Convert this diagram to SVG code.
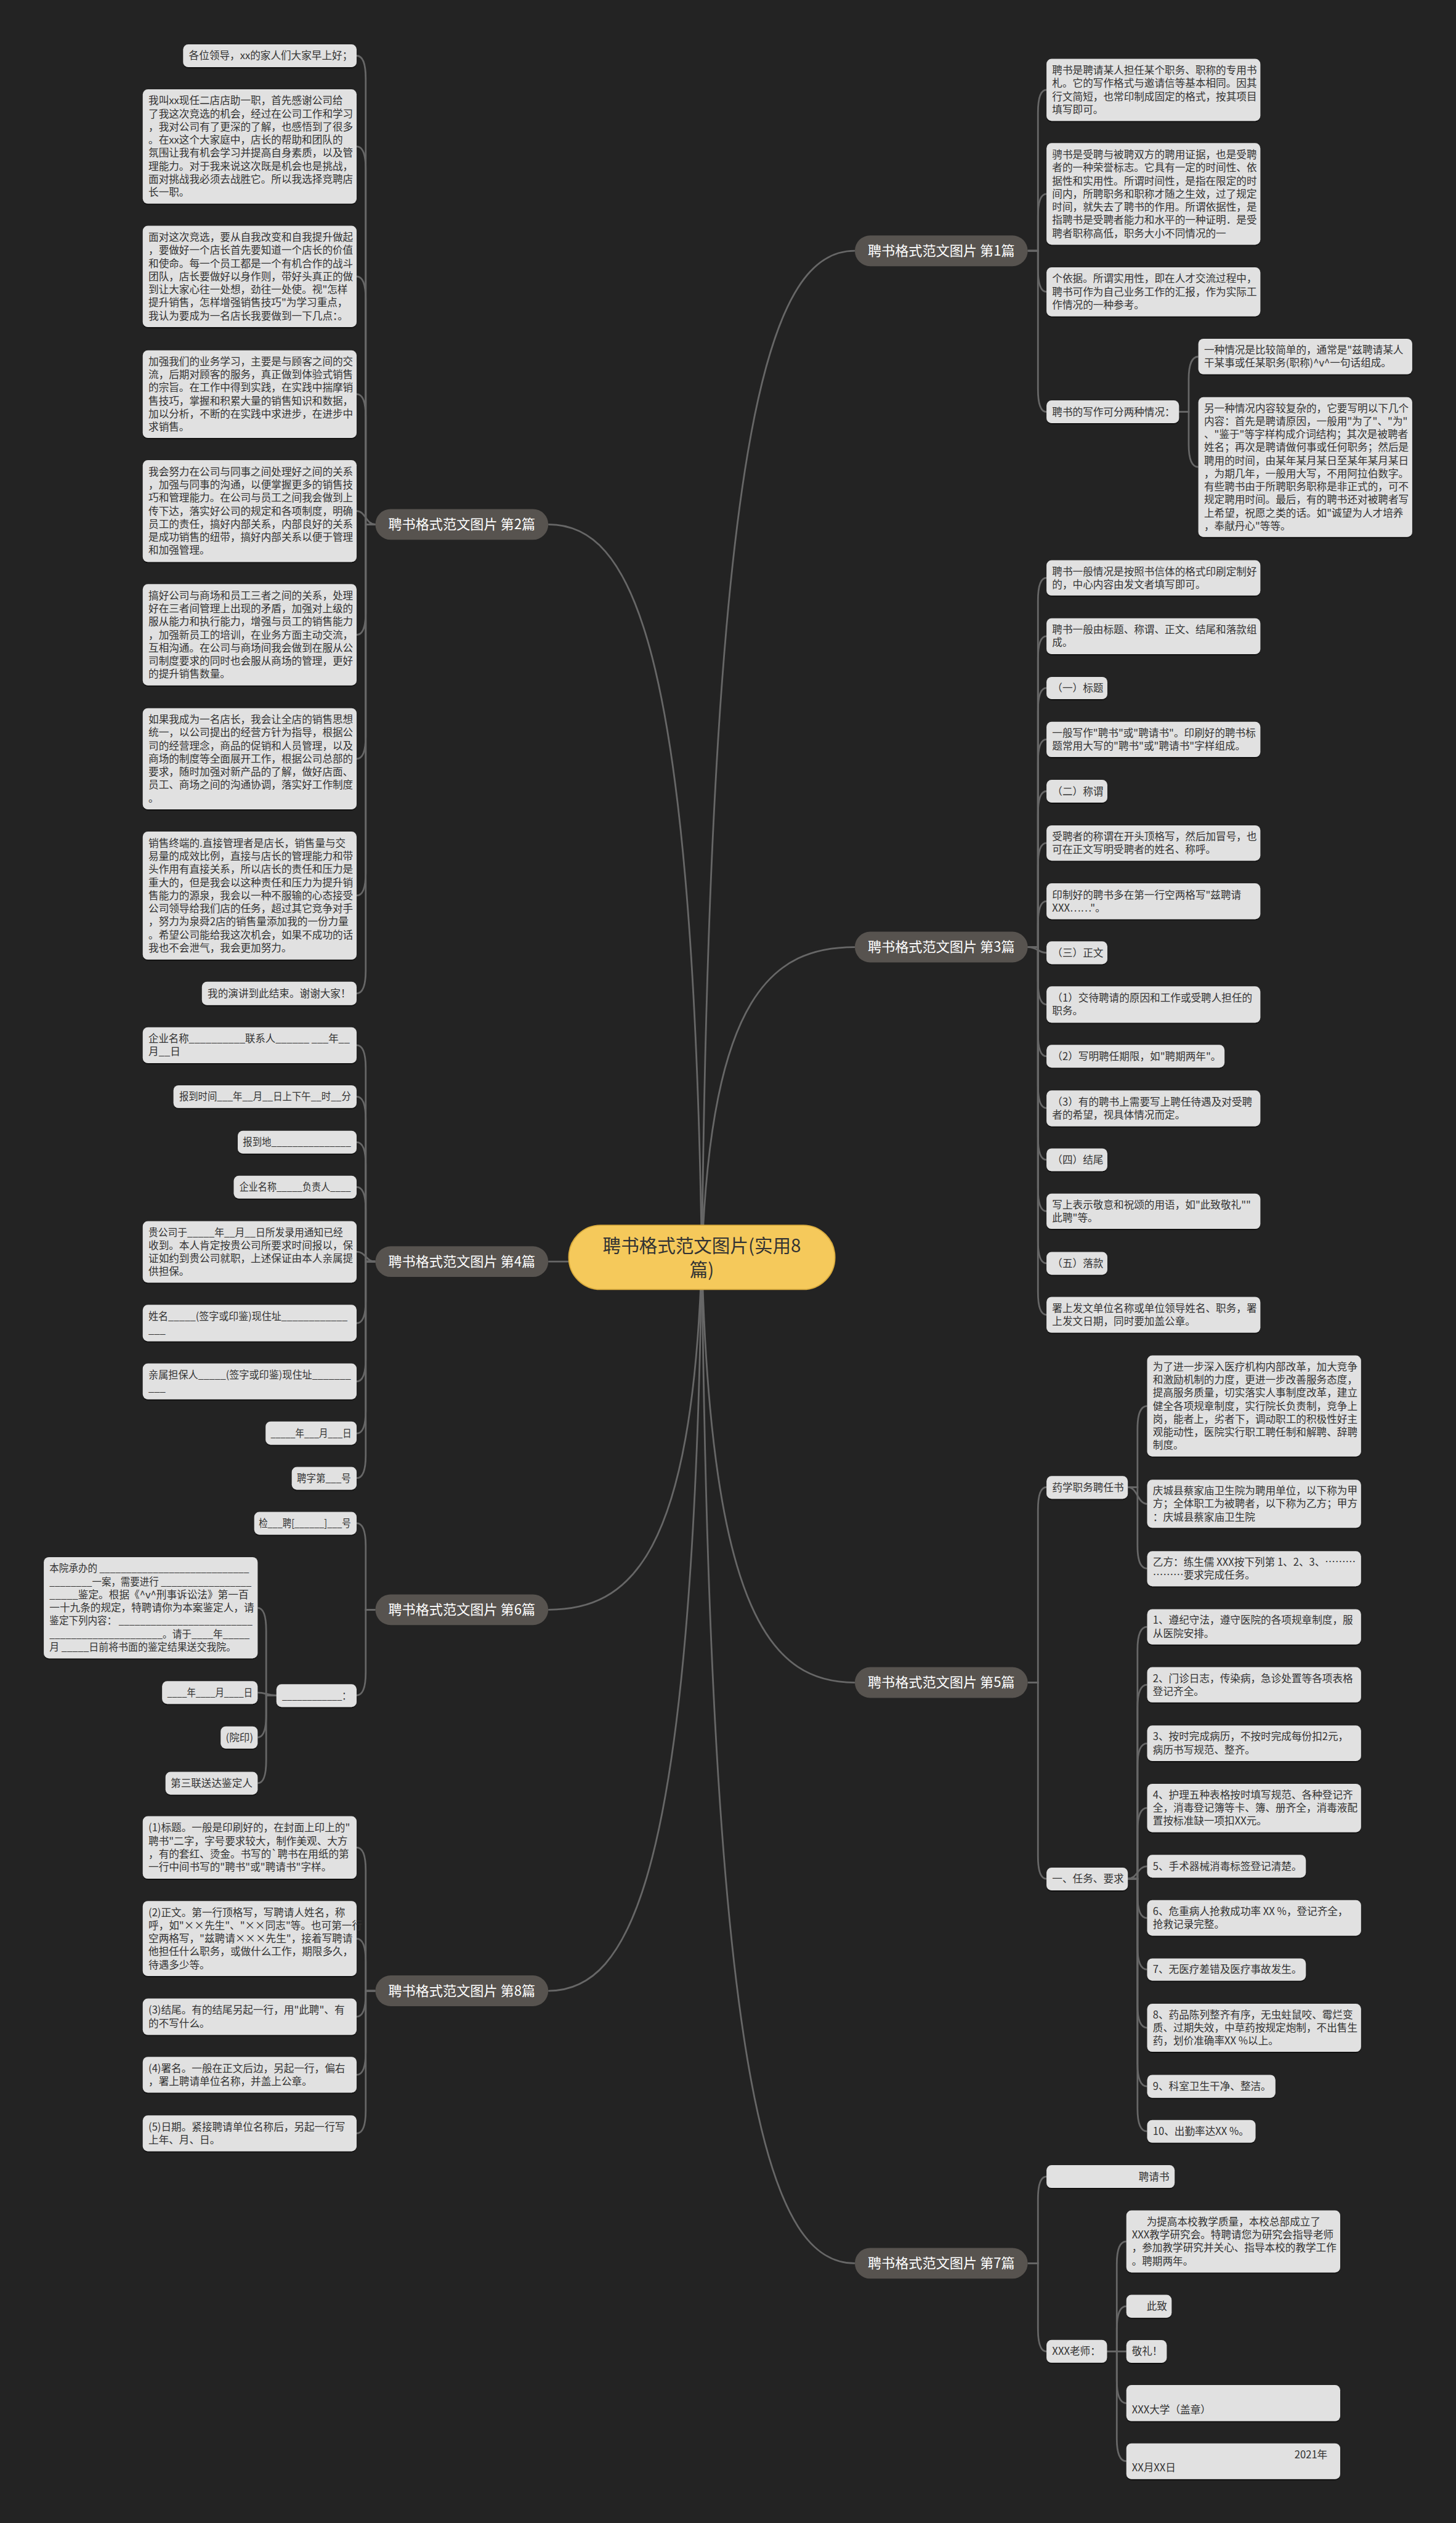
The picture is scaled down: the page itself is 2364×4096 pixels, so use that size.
<svg xmlns="http://www.w3.org/2000/svg" width="2364" height="4096" viewBox="0 0 2364 4096">
<defs>
<filter id="ds" x="-5%" y="-10%" width="110%" height="130%"><feDropShadow dx="0" dy="2" stdDeviation="0.6" flood-color="#000" flood-opacity="0.6"/></filter>
<style>
.bg{fill:#232323}
.cn{fill:none;stroke:#676767;stroke-width:3}
.lf{fill:#e1e1e1;filter:url(#ds)}
.t{font-family:"Noto Sans CJK SC","Noto Sans",sans-serif;font-size:18px;fill:#333}
.br{fill:#57534f}
.bt{font-family:"Noto Sans CJK SC","Noto Sans",sans-serif;font-size:24px;fill:#fff;text-anchor:middle}
.rt{fill:#f5c95b;stroke:#d9ab3d;stroke-width:2}
.rtt{font-family:"Noto Sans CJK SC","Noto Sans",sans-serif;font-size:32px;fill:#333;text-anchor:middle}
</style>
</defs>
<rect class="bg" width="2364" height="4096"/>
<g transform="scale(0.923438)">
<g id="connectors">
<path class="cn" d="M1234,2210 C1250,706 1360,441 1503,441"/>
<path class="cn" d="M1234,2210 C1250,1747 1360,1665 1503,1665"/>
<path class="cn" d="M1234,2210 C1250,2846 1360,2958 1503,2958"/>
<path class="cn" d="M1234,2210 C1250,3714 1360,3979 1503,3979"/>
<path class="cn" d="M1234,2210 C1218,1115 1107,922 964,922"/>
<path class="cn" d="M1234,2210 C1218,2214 1107,2218 964,2218"/>
<path class="cn" d="M1234,2210 C1218,2737 1107,2830 964,2830"/>
<path class="cn" d="M1234,2210 C1218,3306 1107,3500 964,3500"/>
<path class="cn" d="M1807,441 H1825 V198 Q1825,158 1840,158"/>
<path class="cn" d="M1807,441 H1825 V381 Q1825,341 1840,341"/>
<path class="cn" d="M1807,441 H1825 V473 Q1825,513 1840,513"/>
<path class="cn" d="M1807,441 H1825 V684 Q1825,724 1840,724"/>
<path class="cn" d="M2073,724 H2090 V667 Q2090,627 2107,627"/>
<path class="cn" d="M2073,724 H2090 V781 Q2090,821 2107,821"/>
<path class="cn" d="M1807,1665 H1825 V1056 Q1825,1016 1840,1016"/>
<path class="cn" d="M1807,1665 H1825 V1158.5 Q1825,1118.5 1840,1118.5"/>
<path class="cn" d="M1807,1665 H1825 V1249.5 Q1825,1209.5 1840,1209.5"/>
<path class="cn" d="M1807,1665 H1825 V1340 Q1825,1300 1840,1300"/>
<path class="cn" d="M1807,1665 H1825 V1431 Q1825,1391 1840,1391"/>
<path class="cn" d="M1807,1665 H1825 V1522 Q1825,1482 1840,1482"/>
<path class="cn" d="M1807,1665 H1825 V1624.5 Q1825,1584.5 1840,1584.5"/>
<path class="cn" d="M1807,1665 C1825,1665 1825,1675 1840,1675"/>
<path class="cn" d="M1807,1665 H1825 V1726 Q1825,1766 1840,1766"/>
<path class="cn" d="M1807,1665 H1825 V1817 Q1825,1857 1840,1857"/>
<path class="cn" d="M1807,1665 H1825 V1908 Q1825,1948 1840,1948"/>
<path class="cn" d="M1807,1665 H1825 V1999 Q1825,2039 1840,2039"/>
<path class="cn" d="M1807,1665 H1825 V2089.5 Q1825,2129.5 1840,2129.5"/>
<path class="cn" d="M1807,1665 H1825 V2181 Q1825,2221 1840,2221"/>
<path class="cn" d="M1807,1665 H1825 V2271.5 Q1825,2311.5 1840,2311.5"/>
<path class="cn" d="M1807,2958 H1825 V2654.5 Q1825,2614.5 1840,2614.5"/>
<path class="cn" d="M1807,2958 H1825 V3263 Q1825,3303 1840,3303"/>
<path class="cn" d="M1983,2614.5 H2000 V2512 Q2000,2472 2017,2472"/>
<path class="cn" d="M1983,2614.5 C2000,2614.5 2000,2644 2017,2644"/>
<path class="cn" d="M1983,2614.5 H2000 V2717.5 Q2000,2757.5 2017,2757.5"/>
<path class="cn" d="M1983,3303 H2000 V2900 Q2000,2860 2017,2860"/>
<path class="cn" d="M1983,3303 H2000 V3002 Q2000,2962 2017,2962"/>
<path class="cn" d="M1983,3303 H2000 V3105 Q2000,3065 2017,3065"/>
<path class="cn" d="M1983,3303 H2000 V3218.5 Q2000,3178.5 2017,3178.5"/>
<path class="cn" d="M1983,3303 C2000,3303 2000,3281 2017,3281"/>
<path class="cn" d="M1983,3303 H2000 V3332 Q2000,3372 2017,3372"/>
<path class="cn" d="M1983,3303 H2000 V3422.5 Q2000,3462.5 2017,3462.5"/>
<path class="cn" d="M1983,3303 H2000 V3525 Q2000,3565 2017,3565"/>
<path class="cn" d="M1983,3303 H2000 V3628 Q2000,3668 2017,3668"/>
<path class="cn" d="M1983,3303 H2000 V3707 Q2000,3747 2017,3747"/>
<path class="cn" d="M1807,3979 H1825 V3866.5 Q1825,3826.5 1840,3826.5"/>
<path class="cn" d="M1807,3979 H1825 V4094 Q1825,4134 1840,4134"/>
<path class="cn" d="M1946.4,4134 H1963.6 V3980.5 Q1963.6,3940.5 1980.4,3940.5"/>
<path class="cn" d="M1946.4,4134 H1963.6 V4094.6 Q1963.6,4054.6 1980.4,4054.6"/>
<path class="cn" d="M1946.4,4134 H1980.4"/>
<path class="cn" d="M1946.4,4134 H1963.6 V4185 Q1963.6,4225 1980.4,4225"/>
<path class="cn" d="M1946.4,4134 H1963.6 V4287 Q1963.6,4327 1980.4,4327"/>
<path class="cn" d="M660,922 H643 V138 Q643,98 627,98"/>
<path class="cn" d="M660,922 H643 V297.5 Q643,257.5 627,257.5"/>
<path class="cn" d="M660,922 H643 V526 Q643,486 627,486"/>
<path class="cn" d="M660,922 H643 V733 Q643,693 627,693"/>
<path class="cn" d="M660,922 C643,922 643,898.5 627,898.5"/>
<path class="cn" d="M660,922 H643 V1076 Q643,1116 627,1116"/>
<path class="cn" d="M660,922 H643 V1294 Q643,1334 627,1334"/>
<path class="cn" d="M660,922 H643 V1534.5 Q643,1574.5 627,1574.5"/>
<path class="cn" d="M660,922 H643 V1706.5 Q643,1746.5 627,1746.5"/>
<path class="cn" d="M660,2218 H643 V1877.5 Q643,1837.5 627,1837.5"/>
<path class="cn" d="M660,2218 H643 V1968 Q643,1928 627,1928"/>
<path class="cn" d="M660,2218 H643 V2048 Q643,2008 627,2008"/>
<path class="cn" d="M660,2218 H643 V2127 Q643,2087 627,2087"/>
<path class="cn" d="M660,2218 C643,2218 643,2200.7 627,2200.7"/>
<path class="cn" d="M660,2218 H643 V2286.3 Q643,2326.3 627,2326.3"/>
<path class="cn" d="M660,2218 H643 V2388.7 Q643,2428.7 627,2428.7"/>
<path class="cn" d="M660,2218 H643 V2480 Q643,2520 627,2520"/>
<path class="cn" d="M660,2218 H643 V2558.7 Q643,2598.7 627,2598.7"/>
<path class="cn" d="M660,2830 H643 V2718 Q643,2678 627,2678"/>
<path class="cn" d="M660,2830 H643 V2940.5 Q643,2980.5 627,2980.5"/>
<path class="cn" d="M486,2980.5 H468 V2866.7 Q468,2826.7 453,2826.7"/>
<path class="cn" d="M486,2980.5 C468,2980.5 468,2975.7 453,2975.7"/>
<path class="cn" d="M486,2980.5 H468 V3014.4 Q468,3054.4 453,3054.4"/>
<path class="cn" d="M486,2980.5 H468 V3095 Q468,3135 453,3135"/>
<path class="cn" d="M660,3500 H643 V3288 Q643,3248 627,3248"/>
<path class="cn" d="M660,3500 H643 V3448.3 Q643,3408.3 627,3408.3"/>
<path class="cn" d="M660,3500 H643 V3505.5 Q643,3545.5 627,3545.5"/>
<path class="cn" d="M660,3500 H643 V3607.7 Q643,3647.7 627,3647.7"/>
<path class="cn" d="M660,3500 H643 V3710.5 Q643,3750.5 627,3750.5"/>
</g>

<g id="root"><rect class="rt" x="1000" y="2154" width="468" height="113" rx="56"/>
<text class="rtt"><tspan x="1234" y="2201.5">聘书格式范文图片(实用8</tspan><tspan x="1234" y="2243.5">篇)</tspan></text></g>

<g id="b1"><rect class="br" x="1503" y="414" width="304" height="54" rx="27"/><text class="bt" x="1655" y="449.5">聘书格式范文图片 第1篇</text></g>
<g id="b3"><rect class="br" x="1503" y="1638" width="304" height="54" rx="27"/><text class="bt" x="1655" y="1673.5">聘书格式范文图片 第3篇</text></g>
<g id="b5"><rect class="br" x="1503" y="2931" width="304" height="54" rx="27"/><text class="bt" x="1655" y="2966.5">聘书格式范文图片 第5篇</text></g>
<g id="b7"><rect class="br" x="1503" y="3952" width="304" height="54" rx="27"/><text class="bt" x="1655" y="3987.5">聘书格式范文图片 第7篇</text></g>
<g id="b2"><rect class="br" x="660" y="895" width="304" height="54" rx="27"/><text class="bt" x="812" y="930.5">聘书格式范文图片 第2篇</text></g>
<g id="b4"><rect class="br" x="660" y="2191" width="304" height="54" rx="27"/><text class="bt" x="812" y="2226.5">聘书格式范文图片 第4篇</text></g>
<g id="b6"><rect class="br" x="660" y="2803" width="304" height="54" rx="27"/><text class="bt" x="812" y="2838.5">聘书格式范文图片 第6篇</text></g>
<g id="b8"><rect class="br" x="660" y="3473" width="304" height="54" rx="27"/><text class="bt" x="812" y="3508.5">聘书格式范文图片 第8篇</text></g>

<g id="l2-1"><rect class="lf" x="322" y="78" width="305" height="40" rx="9"/><text class="t" x="332" y="104.5">各位领导，xx的家人们大家早上好；</text></g>
<g id="l2-2"><rect class="lf" x="251" y="157" width="376" height="201" rx="9"/><text class="t" y="183.5"><tspan x="261">我叫xx现任二店店助一职，首先感谢公司给</tspan><tspan x="261" dy="23">了我这次竞选的机会，经过在公司工作和学习</tspan><tspan x="261" dy="23">，我对公司有了更深的了解，也感悟到了很多</tspan><tspan x="261" dy="23">。在xx这个大家庭中，店长的帮助和团队的</tspan><tspan x="261" dy="23">氛围让我有机会学习并提高自身素质，以及管</tspan><tspan x="261" dy="23">理能力。对于我来说这次既是机会也是挑战，</tspan><tspan x="261" dy="23">面对挑战我必须去战胜它。所以我选择竞聘店</tspan><tspan x="261" dy="23">长一职。</tspan></text></g>
<g id="l2-3"><rect class="lf" x="251" y="397" width="376" height="178" rx="9"/><text class="t" y="423.5"><tspan x="261">面对这次竞选，要从自我改变和自我提升做起</tspan><tspan x="261" dy="23">，要做好一个店长首先要知道一个店长的价值</tspan><tspan x="261" dy="23">和使命。每一个员工都是一个有机合作的战斗</tspan><tspan x="261" dy="23">团队，店长要做好以身作则，带好头真正的做</tspan><tspan x="261" dy="23">到让大家心往一处想，劲往一处使。视"怎样</tspan><tspan x="261" dy="23">提升销售，怎样增强销售技巧"为学习重点，</tspan><tspan x="261" dy="23">我认为要成为一名店长我要做到一下几点：。</tspan></text></g>
<g id="l2-4"><rect class="lf" x="251" y="616" width="376" height="154" rx="9"/><text class="t" y="642"><tspan x="261">加强我们的业务学习，主要是与顾客之间的交</tspan><tspan x="261" dy="23">流，后期对顾客的服务，真正做到体验式销售</tspan><tspan x="261" dy="23">的宗旨。在工作中得到实践，在实践中揣摩销</tspan><tspan x="261" dy="23">售技巧，掌握和积累大量的销售知识和数据，</tspan><tspan x="261" dy="23">加以分析，不断的在实践中求进步，在进步中</tspan><tspan x="261" dy="23">求销售。</tspan></text></g>
<g id="l2-5"><rect class="lf" x="251" y="809" width="376" height="179" rx="9"/><text class="t" y="836"><tspan x="261">我会努力在公司与同事之间处理好之间的关系</tspan><tspan x="261" dy="23">，加强与同事的沟通，以便掌握更多的销售技</tspan><tspan x="261" dy="23">巧和管理能力。在公司与员工之间我会做到上</tspan><tspan x="261" dy="23">传下达，落实好公司的规定和各项制度，明确</tspan><tspan x="261" dy="23">员工的责任，搞好内部关系，内部良好的关系</tspan><tspan x="261" dy="23">是成功销售的纽带，搞好内部关系以便于管理</tspan><tspan x="261" dy="23">和加强管理。</tspan></text></g>
<g id="l2-6"><rect class="lf" x="251" y="1027" width="376" height="178" rx="9"/><text class="t" y="1053.5"><tspan x="261">搞好公司与商场和员工三者之间的关系，处理</tspan><tspan x="261" dy="23">好在三者间管理上出现的矛盾，加强对上级的</tspan><tspan x="261" dy="23">服从能力和执行能力，增强与员工的销售能力</tspan><tspan x="261" dy="23">，加强新员工的培训，在业务方面主动交流，</tspan><tspan x="261" dy="23">互相沟通。在公司与商场间我会做到在服从公</tspan><tspan x="261" dy="23">司制度要求的同时也会服从商场的管理，更好</tspan><tspan x="261" dy="23">的提升销售数量。</tspan></text></g>
<g id="l2-7"><rect class="lf" x="251" y="1245" width="376" height="178" rx="9"/><text class="t" y="1271.5"><tspan x="261">如果我成为一名店长，我会让全店的销售思想</tspan><tspan x="261" dy="23">统一，以公司提出的经营方针为指导，根据公</tspan><tspan x="261" dy="23">司的经营理念，商品的促销和人员管理，以及</tspan><tspan x="261" dy="23">商场的制度等全面展开工作，根据公司总部的</tspan><tspan x="261" dy="23">要求，随时加强对新产品的了解，做好店面、</tspan><tspan x="261" dy="23">员工、商场之间的沟通协调，落实好工作制度</tspan><tspan x="261" dy="23">。</tspan></text></g>
<g id="l2-8"><rect class="lf" x="251" y="1462" width="376" height="225" rx="9"/><text class="t" y="1489"><tspan x="261">销售终端的.直接管理者是店长，销售量与交</tspan><tspan x="261" dy="23">易量的成效比例，直接与店长的管理能力和带</tspan><tspan x="261" dy="23">头作用有直接关系，所以店长的责任和压力是</tspan><tspan x="261" dy="23">重大的，但是我会以这种责任和压力为提升销</tspan><tspan x="261" dy="23">售能力的源泉，我会以一种不服输的心态接受</tspan><tspan x="261" dy="23">公司领导给我们店的任务，超过其它竞争对手</tspan><tspan x="261" dy="23">，努力为泉舜2店的销售量添加我的一份力量</tspan><tspan x="261" dy="23">。希望公司能给我这次机会，如果不成功的话</tspan><tspan x="261" dy="23">我也不会泄气，我会更加努力。</tspan></text></g>
<g id="l2-9"><rect class="lf" x="355" y="1726" width="272" height="41" rx="9"/><text class="t" x="365" y="1753">我的演讲到此结束。谢谢大家！</text></g>

<g id="l4-1"><rect class="lf" x="251" y="1806" width="376" height="63" rx="9"/><text class="t" x="261" y="1832.5" textLength="354" lengthAdjust="spacingAndGlyphs">企业名称__________联系人______ ___年__</text><text class="t" x="261" y="1855.5">月__日</text></g>
<g id="l4-2"><rect class="lf" x="305" y="1908" width="322" height="40" rx="9"/><text class="t" x="315" y="1934.5" textLength="302" lengthAdjust="spacingAndGlyphs">报到时间___年__月__日上下午__时__分</text></g>
<g id="l4-3"><rect class="lf" x="418" y="1988" width="209" height="40" rx="9"/><text class="t" x="427" y="2014.5" textLength="190" lengthAdjust="spacingAndGlyphs">报到地_______________</text></g>
<g id="l4-4"><rect class="lf" x="411" y="2067" width="216" height="40" rx="9"/><text class="t" x="421" y="2093.5" textLength="196" lengthAdjust="spacingAndGlyphs">企业名称_____负责人____</text></g>
<g id="l4-5"><rect class="lf" x="251" y="2147" width="376" height="108" rx="9"/><text class="t" x="261" y="2173" textLength="342" lengthAdjust="spacingAndGlyphs">贵公司于_____年__月__日所发录用通知已经</text><text class="t" y="2196"><tspan x="261">收到。本人肯定按贵公司所要求时间报以，保</tspan><tspan x="261" dy="23">证如约到贵公司就职，上述保证由本人亲属提</tspan><tspan x="261" dy="23">供担保。</tspan></text></g>
<g id="l4-6"><rect class="lf" x="251" y="2294" width="376" height="64" rx="9"/><text class="t" x="261" y="2321" textLength="350" lengthAdjust="spacingAndGlyphs">姓名_____(签字或印鉴)现住址____________</text><text class="t" x="261" y="2344">___</text></g>
<g id="l4-7"><rect class="lf" x="251" y="2397" width="376" height="63" rx="9"/><text class="t" x="261" y="2423.5" textLength="356" lengthAdjust="spacingAndGlyphs">亲属担保人_____(签字或印鉴)现住址_______</text><text class="t" x="261" y="2446.5">___</text></g>
<g id="l4-8"><rect class="lf" x="467" y="2499" width="160" height="41" rx="9"/><text class="t" x="476" y="2526" textLength="142" lengthAdjust="spacingAndGlyphs">_____年___月___日</text></g>
<g id="l4-9"><rect class="lf" x="513" y="2579" width="114" height="40" rx="9"/><text class="t" x="522" y="2605.5" textLength="95" lengthAdjust="spacingAndGlyphs">聘字第___号</text></g>

<g id="l6-1"><rect class="lf" x="447" y="2658" width="180" height="40" rx="9"/><text class="t" x="455" y="2684.5" textLength="162" lengthAdjust="spacingAndGlyphs">检___聘[______]___号</text></g>
<g id="l6-2"><rect class="lf" x="486" y="2961" width="141" height="40" rx="9"/><text class="t" x="496" y="2987.5" textLength="121" lengthAdjust="spacingAndGlyphs">____________：</text></g>
<g id="l6-2a"><rect class="lf" x="77" y="2737.5" width="376" height="178" rx="9"/>
<text class="t" x="87" y="2764" textLength="351" lengthAdjust="spacingAndGlyphs">本院承办的 ____________________________</text>
<text class="t" x="87" y="2787" textLength="355" lengthAdjust="spacingAndGlyphs">________一案，需要进行 _________________</text>
<text class="t" x="87" y="2810" textLength="350" lengthAdjust="spacingAndGlyphs">_____鉴定。根据《^v^刑事诉讼法》第一百</text>
<text class="t" x="87" y="2833">一十九条的规定，特聘请你为本案鉴定人，请</text>
<text class="t" x="87" y="2856" textLength="357" lengthAdjust="spacingAndGlyphs">鉴定下列内容： _________________________</text>
<text class="t" x="87" y="2879" textLength="352" lengthAdjust="spacingAndGlyphs">_____________________。请于____年_____</text>
<text class="t" x="87" y="2902" textLength="328" lengthAdjust="spacingAndGlyphs">月 _____日前将书面的鉴定结果送交我院。</text></g>
<g id="l6-2b"><rect class="lf" x="285" y="2955.5" width="168" height="40" rx="9"/><text class="t" x="294" y="2982" textLength="150" lengthAdjust="spacingAndGlyphs">____年____月____日</text></g>
<g id="l6-2c"><rect class="lf" x="388" y="3035" width="65" height="39" rx="9"/><text class="t" x="397" y="3061">(院印)</text></g>
<g id="l6-2d"><rect class="lf" x="291" y="3115" width="162" height="40" rx="9"/><text class="t" x="300" y="3141.5">第三联送达鉴定人</text></g>

<g id="l8-1"><rect class="lf" x="251" y="3193" width="376" height="110" rx="9"/><text class="t" y="3220"><tspan x="261">(1)标题。一般是印刷好的，在封面上印上的"</tspan><tspan x="261" dy="23">聘书"二字，字号要求较大，制作美观、大方</tspan><tspan x="261" dy="23">，有的套红、烫金。书写的`聘书在用纸的第</tspan><tspan x="261" dy="23">一行中间书写的"聘书"或"聘请书"字样。</tspan></text></g>
<g id="l8-2"><rect class="lf" x="251" y="3342" width="376" height="132" rx="9"/><text class="t" y="3368.5"><tspan x="261">(2)正文。第一行顶格写，写聘请人姓名，称</tspan><tspan x="261" dy="23">呼，如"××先生"、"××同志"等。也可第一行</tspan><tspan x="261" dy="23">空两格写，"兹聘请×××先生"，接着写聘请</tspan><tspan x="261" dy="23">他担任什么职务，或做什么工作，期限多久，</tspan><tspan x="261" dy="23">待遇多少等。</tspan></text></g>
<g id="l8-3"><rect class="lf" x="251" y="3513.5" width="376" height="64" rx="9"/><text class="t" y="3540.5"><tspan x="261">(3)结尾。有的结尾另起一行，用"此聘"、有</tspan><tspan x="261" dy="23">的不写什么。</tspan></text></g>
<g id="l8-4"><rect class="lf" x="251" y="3616" width="376" height="63" rx="9"/><text class="t" y="3642.5"><tspan x="261">(4)署名。一般在正文后边，另起一行，偏右</tspan><tspan x="261" dy="23">，署上聘请单位名称，并盖上公章。</tspan></text></g>
<g id="l8-5"><rect class="lf" x="251" y="3719" width="376" height="63" rx="9"/><text class="t" y="3745.5"><tspan x="261">(5)日期。紧接聘请单位名称后，另起一行写</tspan><tspan x="261" dy="23">上年、月、日。</tspan></text></g>

<g id="r1-1"><rect class="lf" x="1840" y="103.5" width="376" height="109" rx="9"/><text class="t" y="130"><tspan x="1850">聘书是聘请某人担任某个职务、职称的专用书</tspan><tspan x="1850" dy="23">札。它的写作格式与邀请信等基本相同。因其</tspan><tspan x="1850" dy="23">行文简短，也常印制成固定的格式，按其项目</tspan><tspan x="1850" dy="23">填写即可。</tspan></text></g>
<g id="r1-2"><rect class="lf" x="1840" y="251.6" width="376" height="178.6" rx="9"/><text class="t" y="278.4"><tspan x="1850">骋书是受聘与被聘双方的聘用证据，也是受聘</tspan><tspan x="1850" dy="23">者的一种荣誉标志。它具有一定的时间性、依</tspan><tspan x="1850" dy="23">据性和实用性。所谓时间性，是指在限定的时</tspan><tspan x="1850" dy="23">间内，所聘职务和职称才随之生效，过了规定</tspan><tspan x="1850" dy="23">时间，就失去了聘书的作用。所谓依据性，是</tspan><tspan x="1850" dy="23">指聘书是受聘者能力和水平的一种证明．是受</tspan><tspan x="1850" dy="23">聘者职称高低，职务大小不同情况的一</tspan></text></g>
<g id="r1-3"><rect class="lf" x="1840" y="470" width="376" height="86" rx="9"/><text class="t" y="496.5"><tspan x="1850">个依据。所谓实用性，即在人才交流过程中，</tspan><tspan x="1850" dy="23">聘书可作为自己业务工作的汇报，作为实际工</tspan><tspan x="1850" dy="23">作情况的一种参考。</tspan></text></g>
<g id="r1-4"><rect class="lf" x="1840" y="704" width="233" height="40" rx="9"/><text class="t" x="1850" y="730.5">聘书的写作可分两种情况：</text></g>
<g id="r1-4a"><rect class="lf" x="2107" y="595.5" width="376" height="62.5" rx="9"/><text class="t" y="621.75"><tspan x="2117">一种情况是比较简单的，通常是"兹聘请某人</tspan><tspan x="2117" dy="23">干某事或任某职务(职称)^v^一句话组成。</tspan></text></g>
<g id="r1-4b"><rect class="lf" x="2107" y="698.3" width="376" height="245.7" rx="9"/><text class="t" y="724.15"><tspan x="2117">另一种情况内容较复杂的，它要写明以下几个</tspan><tspan x="2117" dy="23">内容：首先是聘请原因，一般用"为了"、"为"</tspan><tspan x="2117" dy="23">、"鉴于"等字样构成介词结构；其次是被聘者</tspan><tspan x="2117" dy="23">姓名；再次是聘请做何事或任何职务；然后是</tspan><tspan x="2117" dy="23">聘用的时间，由某年某月某日至某年某月某日</tspan><tspan x="2117" dy="23">，为期几年，一般用大写，不用阿拉伯数字。</tspan><tspan x="2117" dy="23">有些聘书由于所聘职务职称是非正式的，可不</tspan><tspan x="2117" dy="23">规定聘用时间。最后，有的聘书还对被聘者写</tspan><tspan x="2117" dy="23">上希望，祝愿之类的话。如"诚望为人才培养</tspan><tspan x="2117" dy="23">，奉献丹心"等等。</tspan></text></g>

<g id="r3-1"><rect class="lf" x="1840" y="985" width="376" height="62" rx="9"/><text class="t" y="1011"><tspan x="1850">聘书一般情况是按照书信体的格式印刷定制好</tspan><tspan x="1850" dy="23">的，中心内容由发文者填写即可。</tspan></text></g>
<g id="r3-2"><rect class="lf" x="1840" y="1087" width="376" height="63" rx="9"/><text class="t" y="1113.5"><tspan x="1850">聘书一般由标题、称谓、正文、结尾和落款组</tspan><tspan x="1850" dy="23">成。</tspan></text></g>
<g id="r3-3"><rect class="lf" x="1840" y="1190" width="107" height="39" rx="9"/><text class="t" x="1850" y="1216">（一）标题</text></g>
<g id="r3-4"><rect class="lf" x="1840" y="1269" width="376" height="62" rx="9"/><text class="t" y="1295"><tspan x="1850">一般写作"聘书"或"聘请书"。印刷好的聘书标</tspan><tspan x="1850" dy="23">题常用大写的"聘书"或"聘请书"字样组成。</tspan></text></g>
<g id="r3-5"><rect class="lf" x="1840" y="1371" width="107" height="40" rx="9"/><text class="t" x="1850" y="1397.5">（二）称谓</text></g>
<g id="r3-6"><rect class="lf" x="1840" y="1451" width="376" height="62" rx="9"/><text class="t" y="1477"><tspan x="1850">受聘者的称谓在开头顶格写，然后加冒号，也</tspan><tspan x="1850" dy="23">可在正文写明受聘者的姓名、称呼。</tspan></text></g>
<g id="r3-7"><rect class="lf" x="1840" y="1553" width="376" height="63" rx="9"/><text class="t" y="1579.5"><tspan x="1850">印制好的聘书多在第一行空两格写"兹聘请</tspan><tspan x="1850" dy="23">XXX……"。</tspan></text></g>
<g id="r3-8"><rect class="lf" x="1840" y="1655" width="107" height="40" rx="9"/><text class="t" x="1850" y="1681.5">（三）正文</text></g>
<g id="r3-9"><rect class="lf" x="1840" y="1734" width="376" height="64" rx="9"/><text class="t" y="1761"><tspan x="1850">（1）交待聘请的原因和工作或受聘人担任的</tspan><tspan x="1850" dy="23">职务。</tspan></text></g>
<g id="r3-10"><rect class="lf" x="1840" y="1837" width="313" height="40" rx="9"/><text class="t" x="1850" y="1863.5">（2）写明聘任期限，如"聘期两年"。</text></g>
<g id="r3-11"><rect class="lf" x="1840" y="1917" width="376" height="63" rx="9"/><text class="t" y="1943.5"><tspan x="1850">（3）有的聘书上需要写上聘任待遇及对受聘</tspan><tspan x="1850" dy="23">者的希望，视具体情况而定。</tspan></text></g>
<g id="r3-12"><rect class="lf" x="1840" y="2019" width="107" height="40" rx="9"/><text class="t" x="1850" y="2045.5">（四）结尾</text></g>
<g id="r3-13"><rect class="lf" x="1840" y="2098.5" width="376" height="62" rx="9"/><text class="t" y="2124.5"><tspan x="1850">写上表示敬意和祝颂的用语，如"此致敬礼""</tspan><tspan x="1850" dy="23">此聘"等。</tspan></text></g>
<g id="r3-14"><rect class="lf" x="1840" y="2201" width="107" height="40" rx="9"/><text class="t" x="1850" y="2227.5">（五）落款</text></g>
<g id="r3-15"><rect class="lf" x="1840" y="2280" width="376" height="63" rx="9"/><text class="t" y="2306.5"><tspan x="1850">署上发文单位名称或单位领导姓名、职务，署</tspan><tspan x="1850" dy="23">上发文日期，同时要加盖公章。</tspan></text></g>

<g id="r5-1"><rect class="lf" x="1840" y="2595" width="143" height="40" rx="9"/><text class="t" x="1850" y="2621.5">药学职务聘任书</text></g>
<g id="r5-1a"><rect class="lf" x="2017" y="2383" width="376" height="177.6" rx="9"/><text class="t" y="2409.3"><tspan x="2027">为了进一步深入医疗机构内部改革，加大竞争</tspan><tspan x="2027" dy="23">和激励机制的力度，更进一步改善服务态度，</tspan><tspan x="2027" dy="23">提高服务质量，切实落实人事制度改革，建立</tspan><tspan x="2027" dy="23">健全各项规章制度，实行院长负责制，竞争上</tspan><tspan x="2027" dy="23">岗，能者上，劣者下，调动职工的积极性好主</tspan><tspan x="2027" dy="23">观能动性，医院实行职工聘任制和解聘、辞聘</tspan><tspan x="2027" dy="23">制度。</tspan></text></g>
<g id="r5-1b"><rect class="lf" x="2017" y="2601.5" width="376" height="84.5" rx="9"/><text class="t" y="2627.25"><tspan x="2027">庆城县蔡家庙卫生院为聘用单位，以下称为甲</tspan><tspan x="2027" dy="23">方；全体职工为被聘者，以下称为乙方；甲方</tspan><tspan x="2027" dy="23">：庆城县蔡家庙卫生院</tspan></text></g>
<g id="r5-1c"><rect class="lf" x="2017" y="2727" width="376" height="61.7" rx="9"/><text class="t" y="2752.85"><tspan x="2027">乙方：练生儒 XXX按下列第 1、2、3、………</tspan><tspan x="2027" dy="23">………要求完成任务。</tspan></text></g>
<g id="r5-2"><rect class="lf" x="1840" y="3283.4" width="143" height="40" rx="9"/><text class="t" x="1850" y="3309.9">一、任务、要求</text></g>
<g id="r5-2a"><rect class="lf" x="2017" y="2829" width="376" height="62" rx="9"/><text class="t" y="2855"><tspan x="2027">1、遵纪守法，遵守医院的各项规章制度，服</tspan><tspan x="2027" dy="23">从医院安排。</tspan></text></g>
<g id="r5-2b"><rect class="lf" x="2017" y="2931" width="376" height="62" rx="9"/><text class="t" y="2957"><tspan x="2027">2、门诊日志，传染病，急诊处置等各项表格</tspan><tspan x="2027" dy="23">登记齐全。</tspan></text></g>
<g id="r5-2c"><rect class="lf" x="2017" y="3033.5" width="376" height="62.5" rx="9"/><text class="t" y="3059.75"><tspan x="2027">3、按时完成病历，不按时完成每份扣2元，</tspan><tspan x="2027" dy="23">病历书写规范、整齐。</tspan></text></g>
<g id="r5-2d"><rect class="lf" x="2017" y="3136" width="376" height="85" rx="9"/><text class="t" y="3162"><tspan x="2027">4、护理五种表格按时填写规范、各种登记齐</tspan><tspan x="2027" dy="23">全，消毒登记簿等卡、簿、册齐全，消毒液配</tspan><tspan x="2027" dy="23">置按标准缺一项扣XX元。</tspan></text></g>
<g id="r5-2e"><rect class="lf" x="2017" y="3261" width="279" height="40" rx="9"/><text class="t" x="2027" y="3287.5">5、手术器械消毒标签登记清楚。</text></g>
<g id="r5-2f"><rect class="lf" x="2017" y="3340.5" width="376" height="62.5" rx="9"/><text class="t" y="3366.75"><tspan x="2027">6、危重病人抢救成功率 XX %，登记齐全，</tspan><tspan x="2027" dy="23">抢救记录完整。</tspan></text></g>
<g id="r5-2g"><rect class="lf" x="2017" y="3443" width="279" height="39" rx="9"/><text class="t" x="2027" y="3469">7、无医疗差错及医疗事故发生。</text></g>
<g id="r5-2h"><rect class="lf" x="2017" y="3522.7" width="376" height="84.6" rx="9"/><text class="t" y="3548.5"><tspan x="2027">8、药品陈列整齐有序，无虫蛀鼠咬、霉烂变</tspan><tspan x="2027" dy="23">质、过期失效，中草药按规定炮制，不出售生</tspan><tspan x="2027" dy="23">药，划价准确率XX %以上。</tspan></text></g>
<g id="r5-2i"><rect class="lf" x="2017" y="3647.7" width="225.5" height="40.3" rx="9"/><text class="t" x="2027" y="3674.35">9、科室卫生干净、整洁。</text></g>
<g id="r5-2j"><rect class="lf" x="2017" y="3727" width="190.5" height="40" rx="9"/><text class="t" x="2027" y="3753.5">10、出勤率达XX %。</text></g>

<g id="r7-1"><rect class="lf" x="1840" y="3806.4" width="225.3" height="40.2" rx="9"/><text class="t" x="2056" y="3833" text-anchor="end">聘请书</text></g>
<g id="r7-2"><rect class="lf" x="1840" y="4113.7" width="106.4" height="40.2" rx="9"/><text class="t" x="1850" y="4140.3">XXX老师：</text></g>
<g id="r7-2a"><rect class="lf" x="1980.4" y="3886" width="376" height="109" rx="9"/><text class="t" y="3912.5"><tspan x="2016">为提高本校教学质量，本校总部成立了</tspan><tspan x="1990" dy="23">XXX教学研究会。特聘请您为研究会指导老师</tspan><tspan x="1990" dy="23">，参加教学研究并关心、指导本校的教学工作</tspan><tspan x="1990" dy="23">。聘期两年。</tspan></text></g>
<g id="r7-2b"><rect class="lf" x="1980.4" y="4034.5" width="79.6" height="40.2" rx="9"/><text class="t" x="2016" y="4061.1">此致</text></g>
<g id="r7-2c"><rect class="lf" x="1980.4" y="4114" width="71" height="40" rx="9"/><text class="t" x="1990" y="4140.5">敬礼！</text></g>
<g id="r7-2d"><rect class="lf" x="1980.4" y="4193" width="376" height="63.5" rx="9"/><text class="t" x="1990" y="4242.75">XXX大学（盖章）</text></g>
<g id="r7-2e"><rect class="lf" x="1980.4" y="4295.5" width="376" height="63" rx="9"/><text class="t" y="4322"><tspan x="2276">2021年</tspan><tspan x="1990" dy="23">XX月XX日</tspan></text></g>
</g>
</svg>
